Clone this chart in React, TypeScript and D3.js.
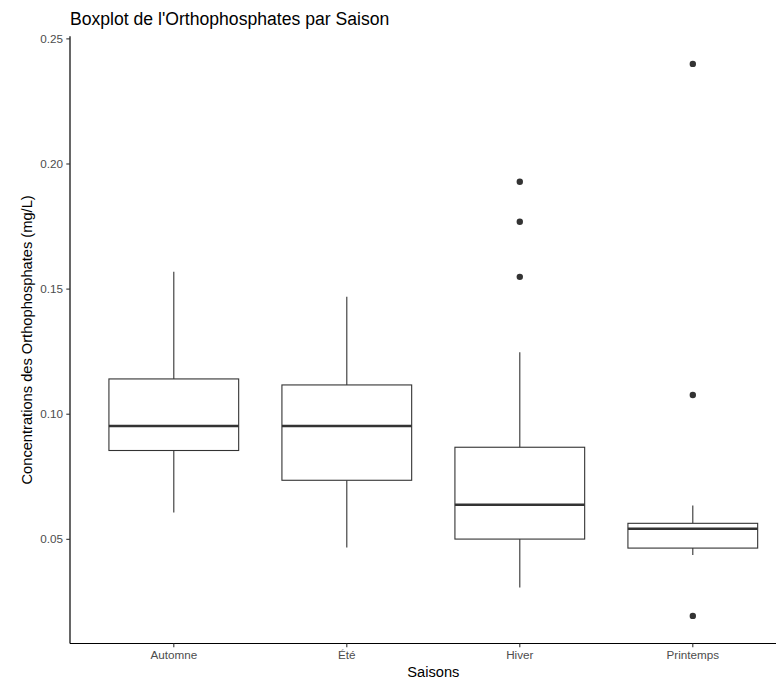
import React from "react";
import * as d3 from "d3";

// Orthophosphate concentrations (mg/L) summarised per season
const seasons = ["Automne", "Été", "Hiver", "Printemps"];
const whiskerLow = [0.0607, 0.0467, 0.0307, 0.0437];
const quartile1 = [0.0855, 0.0736, 0.0501, 0.0465];
const medians = [0.0953, 0.0953, 0.0638, 0.0542];
const quartile3 = [0.1141, 0.1117, 0.0868, 0.0564];
const whiskerHigh = [0.1569, 0.1469, 0.1248, 0.0635];
const outliers: number[][] = [[], [], [0.1549, 0.1769, 0.1929], [0.0194, 0.1077, 0.24]];
const yTicks = [0.05, 0.1, 0.15, 0.2, 0.25];

const W = 776;
const H = 681;
const FONT = "'Liberation Sans', Arial, Helvetica, sans-serif";

export default function App() {
  const left = 70;
  const step = 173;
  const top = 36.3;
  const bottom = 643.5;

  const allVals = [...whiskerLow, ...whiskerHigh, ...outliers.flat()];
  const lo = d3.min(allVals)!;
  const hi = d3.max(allVals)!;
  const pad = (hi - lo) * 0.05;

  const y = d3.scaleLinear().domain([lo - pad, hi + pad]).range([bottom, top]);
  // discrete axis: positions 1..n with 0.6 expansion on each side
  const x = d3
    .scaleLinear()
    .domain([0.4, seasons.length + 0.6])
    .range([left, left + step * (seasons.length + 0.2)]);

  const boxW = step * 0.75;
  const dark = "#333333";

  return (
    <svg
      width={W}
      height={H}
      style={{ position: "fixed", left: 0, top: 0, background: "#fff" }}
      fontFamily={FONT}
    >
      <rect width={W} height={H} fill="#fff" />
      <text x={left} y={25} fontSize={17.6} fill="#000">
        Boxplot de l'Orthophosphates par Saison
      </text>

      {seasons.map((s, i) => {
        const cx = x(i + 1);
        return (
          <g key={s}>
            <line x1={cx} x2={cx} y1={y(quartile3[i])} y2={y(whiskerHigh[i])} stroke={dark} strokeWidth={1.1} />
            <line x1={cx} x2={cx} y1={y(quartile1[i])} y2={y(whiskerLow[i])} stroke={dark} strokeWidth={1.1} />
            <rect
              x={cx - boxW / 2}
              y={y(quartile3[i])}
              width={boxW}
              height={y(quartile1[i]) - y(quartile3[i])}
              fill="#fff"
              stroke={dark}
              strokeWidth={1.1}
            />
            <line
              x1={cx - boxW / 2}
              x2={cx + boxW / 2}
              y1={y(medians[i])}
              y2={y(medians[i])}
              stroke={dark}
              strokeWidth={2.4}
            />
            {outliers[i].map((v, j) => (
              <circle key={j} cx={cx} cy={y(v)} r={3.2} fill={dark} />
            ))}
          </g>
        );
      })}

      {/* axes */}
      <line x1={left} x2={left} y1={top} y2={bottom} stroke="#000" strokeWidth={1.2} />
      <line x1={left} x2={W + 30} y1={bottom} y2={bottom} stroke="#000" strokeWidth={1.2} />

      {yTicks.map((t) => (
        <g key={t}>
          <line x1={left - 3.7} x2={left} y1={y(t)} y2={y(t)} stroke={dark} strokeWidth={1.1} />
          <text x={left - 7} y={y(t)} dy="0.35em" textAnchor="end" fontSize={11.7} fill="#4d4d4d">
            {d3.format(".2f")(t)}
          </text>
        </g>
      ))}

      {seasons.map((s, i) => (
        <g key={s}>
          <line x1={x(i + 1)} x2={x(i + 1)} y1={bottom} y2={bottom + 3.7} stroke={dark} strokeWidth={1.1} />
          <text x={x(i + 1)} y={659} textAnchor="middle" fontSize={11.7} fill="#4d4d4d">
            {s}
          </text>
        </g>
      ))}

      <text x={(left + left + step * 4.2) / 2} y={677} textAnchor="middle" fontSize={14.67} fill="#000">
        Saisons
      </text>
      <text
        transform={`translate(32,${(top + bottom) / 2}) rotate(-90)`}
        textAnchor="middle"
        fontSize={14.67}
        fill="#000"
      >
        Concentrations des Orthophosphates (mg/L)
      </text>
    </svg>
  );
}
